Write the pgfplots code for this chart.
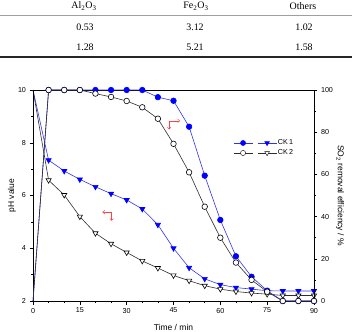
\documentclass[border=0pt]{standalone}
\usepackage{pgfplots}
\usepackage{pgfplotstable}
\pgfplotsset{compat=1.18}
\usetikzlibrary{arrows.meta}
\usepackage{fontspec}
\setmainfont{Liberation Sans}
\newfontfamily\tabfont{Liberation Serif}

\definecolor{ckblue}{RGB}{0,0,255}
\definecolor{ckline}{RGB}{50,50,235}
\definecolor{ckgray}{RGB}{45,45,45}
\definecolor{arrowred}{RGB}{250,70,70}

% time (min), SO2 removal efficiency (%) and pH of the two runs
\pgfplotstableread{
t   effA  effB  phA   phB
0   0     0     10    10
5   100   100   7.34  6.58
10  100   100   6.93  6.02
15  100   100   6.61  5.20
20  100   98.3  6.33  4.57
25  100   96.7  6.07  4.17
30  100   94.8  5.83  3.84
35  100   91.8  5.49  3.52
40  96.6  86.4  4.89  3.25
45  94.9  74.5  4.00  2.97
50  82.6  61.0  3.26  2.77
55  59.4  44.7  2.84  2.58
60  38.4  30.0  2.62  2.45
65  21.2  18.2  2.51  2.36
70  11.5  10.0  2.45  2.30
75  4.9   4.4   2.39  2.26
80  0     0     2.38  2.21
85  0     0     2.38  2.21
90  0     0     2.38  2.21
}\data

\pgfplotsset{
  /pgf/number format/assume math mode=true,
  twin/.style={
    at={(33bp,31bp)}, anchor=south west,
    scale only axis, width=281bp, height=211bp,
    xmin=0, xmax=90,
    tick align=outside,
    major tick length=3.5bp, minor tick length=2bp,
    every tick/.style={black, line width=0.5pt},
    axis line style={line width=0.6pt},
    tick label style={font=\fontsize{7.2}{8}\selectfont},
    xticklabel={\pgfmathprintnumber[assume math mode=true]{\tick}},
    yticklabel={\pgfmathprintnumber[assume math mode=true]{\tick}},
    label style={font=\fontsize{8.5}{10}\selectfont},
    clip=false,
  },
}

\begin{document}
\begin{tikzpicture}
\path[use as bounding box] (0,0) rectangle (352bp,332bp);

% composition table
\begin{scope}[font=\tabfont\fontsize{10}{12}\selectfont]
  \node at (84bp,326bp) {Al\textsubscript{2}O\textsubscript{3}};
  \node at (196bp,326bp) {Fe\textsubscript{2}O\textsubscript{3}};
  \node at (303bp,326bp) {Others};
  \draw[gray!75, line width=1.2bp] (0,316.5bp) -- (352bp,316.5bp);
  \node at (85bp,305bp) {0.53};
  \node at (195bp,305bp) {3.12};
  \node at (304bp,305bp) {1.02};
  \node at (85bp,285bp) {1.28};
  \node at (195bp,285bp) {5.21};
  \node at (304bp,285bp) {1.58};
  \draw[black!85, line width=2bp] (0,274.5bp) -- (352bp,274.5bp);
\end{scope}

% pH, left axis
\begin{axis}[twin,
  ymin=2, ymax=10,
  xtick={0,15,...,90}, minor x tick num=2,
  ytick={2,4,...,10}, minor y tick num=1,
  xtick pos=bottom, ytick pos=left,
  xlabel={Time / min}, ylabel={pH value},
  xlabel style={at={(axis description cs:0.5,0)}, anchor=center, yshift=-26bp},
  ylabel style={at={(axis description cs:0,0.5)}, anchor=center, yshift=21bp},
]
\addplot[ckline, line width=0.6pt, mark=triangle*, mark size=3bp,
  mark phase=2, mark options={rotate=180, fill=ckblue, draw=ckblue, solid}]
  table[x=t, y=phA] {\data};
\addplot[ckgray, line width=0.6pt, mark=triangle*, mark size=3bp,
  mark phase=2, mark options={rotate=180, fill=white, draw=black, solid}]
  table[x=t, y=phB] {\data};

\draw[arrowred, line width=0.5pt, {Straight Barb[length=2bp,width=3.5bp]}-{Straight Barb[length=2bp,width=3.5bp]}]
  (axis cs:47.1,8.83) -- (axis cs:43.6,8.83) -- (axis cs:43.6,8.50);
\draw[arrowred, line width=0.5pt, {Straight Barb[length=2bp,width=3.5bp]}-{Straight Barb[length=2bp,width=3.5bp]}]
  (axis cs:22.2,5.37) -- (axis cs:25.2,5.37) -- (axis cs:25.2,5.04);
\end{axis}

% SO2 removal efficiency, right axis
\begin{axis}[twin,
  ymin=0, ymax=100,
  xtick=\empty,
  ytick={0,20,...,100}, minor y tick num=1,
  ytick pos=right,
  ylabel={SO\textsubscript{2} removal efficiency / \%},
  ylabel style={at={(axis description cs:1,0.5)}, anchor=center, rotate=180, yshift=26bp},
  legend style={draw=none, fill=none, at={(0.712,0.770)}, anchor=north west,
    font=\fontsize{7.2}{8}\selectfont, inner sep=0pt, row sep=1.5bp,
    nodes={inner sep=1bp}},
  legend cell align=left,
]
\addplot[ckline, line width=0.6pt, mark=*, mark size=2.8bp,
  mark phase=2, mark options={fill=ckblue, draw=ckblue, solid}, forget plot]
  table[x=t, y=effA] {\data};
\addplot[ckgray, line width=0.6pt, mark=*, mark size=2.8bp,
  mark phase=2, mark options={fill=white, draw=black, solid}, forget plot]
  table[x=t, y=effB] {\data};

\addlegendimage{legend image code/.code={
  \draw[ckline, line width=0.6pt] (0bp,0bp) -- (19bp,0bp) (24bp,0bp) -- (43bp,0bp);
  \path plot[mark=*, mark size=2.6bp, mark options={fill=ckblue, draw=ckblue}]
    coordinates {(9.5bp,0bp)};
  \path plot[mark=triangle*, mark size=2.8bp, mark options={rotate=180, fill=ckblue, draw=ckblue}]
    coordinates {(33.5bp,0bp)};
}}
\addlegendentry{CK\,1}
\addlegendimage{legend image code/.code={
  \draw[ckgray, line width=0.6pt] (0bp,0bp) -- (19bp,0bp) (24bp,0bp) -- (43bp,0bp);
  \path plot[mark=*, mark size=2.6bp, mark options={fill=white, draw=black}]
    coordinates {(9.5bp,0bp)};
  \path plot[mark=triangle*, mark size=2.8bp, mark options={rotate=180, fill=white, draw=black}]
    coordinates {(33.5bp,0bp)};
}}
\addlegendentry{CK\,2}
\end{axis}
\end{tikzpicture}
\end{document}
